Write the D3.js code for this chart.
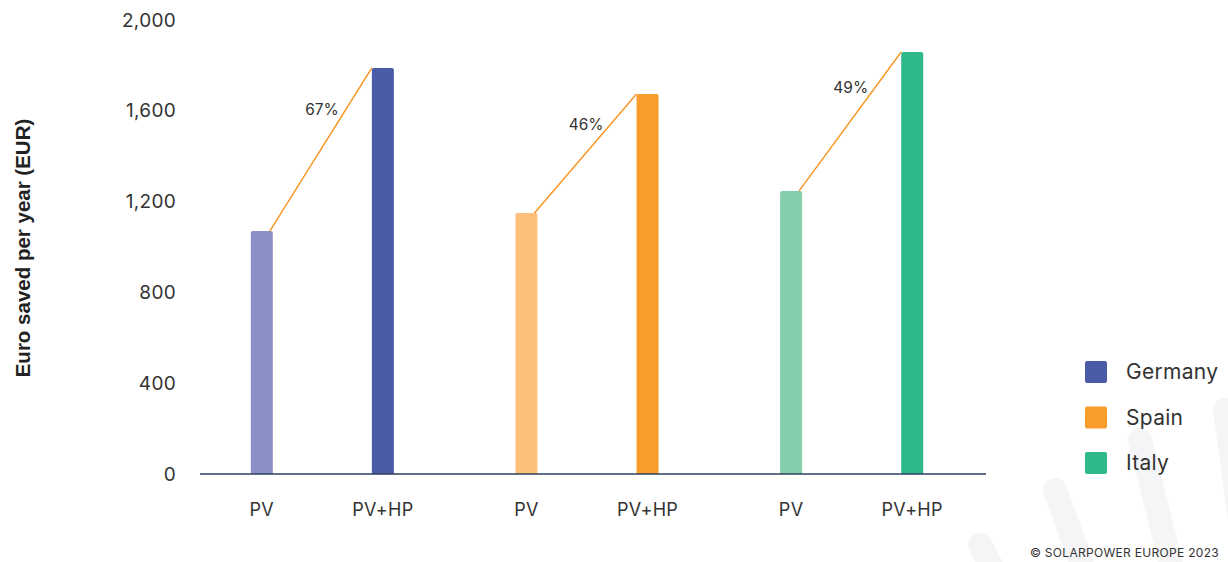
<!DOCTYPE html>
<html><head><meta charset="utf-8">
<script src="https://cdn.jsdelivr.net/npm/d3@7"></script>
<style>
html,body{margin:0;padding:0;background:#fff;}
svg{display:block;font-family:Inter,"Noto Sans",sans-serif;}
</style></head>
<body>
<svg id="chart" width="1228" height="562"></svg>
<script>
const countries = ["Germany","Spain","Italy"];
const scenarios = ["PV","PV+HP"];
const pvValues = [1070, 1150, 1247];
const pvhpValues = [1789, 1674, 1859];
const increaseLabels = ["67%","46%","49%"];
const yTicks = [0,400,800,1200,1600,2000];
const pvColors = ["#8a8fc6","#fdc07c","#85cdab"];
const hpColors = ["#4a5ba8","#f89c2a","#2fb98a"];

const svg = d3.select("#chart");

// watermark strokes
const wm = svg.append("g").attr("stroke","#f5f5f7").attr("stroke-width",24).attr("stroke-linecap","round").attr("fill","none");
[[980,545,1010,600],[1055,490,1095,600],[1140,440,1180,600],[1225,410,1240,520]].forEach(d=>{
  wm.append("line").attr("x1",d[0]).attr("y1",d[1]).attr("x2",d[2]).attr("y2",d[3]);
});

const y = d3.scaleLinear().domain([0,2000]).range([474,20]);
const x0 = d3.scaleBand().domain(countries).range([190,984]);
const x1 = d3.scalePoint().domain(scenarios).range([0,x0.step()]).padding(0.593);
const barW = 22;

// y axis labels
svg.append("g").selectAll("text").data(yTicks).join("text")
  .attr("x",176).attr("y",d=>y(d)).attr("dy","0.35em")
  .attr("text-anchor","end").attr("font-size",19).attr("letter-spacing",0.3).attr("fill","#333")
  .text(d=>d3.format(",")(d));

svg.append("text").attr("transform","translate(30,248) rotate(-90)")
  .attr("text-anchor","middle").attr("font-size",20.5).attr("font-weight","bold").attr("fill","#222")
  .style("font-family","'Liberation Sans',Arial,sans-serif")
  .text("Euro saved per year (EUR)");

const data = [];
countries.forEach((c,i)=>{
  data.push({c, s:"PV", v:pvValues[i], col:pvColors[i]});
  data.push({c, s:"PV+HP", v:pvhpValues[i], col:hpColors[i]});
});

// bars
svg.append("g").selectAll("path").data(data).join("path")
  .attr("fill",d=>d.col)
  .attr("d",d=>{
    const cx = x0(d.c)+x1(d.s), l = cx-barW/2, t = y(d.v), b = y(0), r = 2;
    return `M${l},${b}V${t+r}Q${l},${t} ${l+r},${t}H${l+barW-r}Q${l+barW},${t} ${l+barW},${t+r}V${b}Z`;
  });

// axis baseline
svg.append("line").attr("x1",200).attr("x2",986).attr("y1",y(0)).attr("y2",y(0))
  .attr("stroke","#2d3f5f").attr("stroke-width",1.3);

// x labels
svg.append("g").selectAll("text").data(data).join("text")
  .attr("x",d=>x0(d.c)+x1(d.s)).attr("y",516)
  .attr("text-anchor","middle").attr("font-size",18).attr("letter-spacing",0.3).attr("fill","#333")
  .text(d=>d.s);

// connector lines and labels
countries.forEach((c,i)=>{
  const xs = x0(c)+x1("PV")+barW/2-3, ys = y(pvValues[i]);
  const xe = x0(c)+x1("PV+HP")-barW/2, ye = y(pvhpValues[i]);
  svg.append("line").attr("x1",xs).attr("y1",ys).attr("x2",xe).attr("y2",ye)
    .attr("stroke","#f7941d").attr("stroke-width",1.4);
  const f = 0.745;
  const px = xs+(xe-xs)*f, py = ys+(ye-ys)*f;
  svg.append("text").attr("x",px-7).attr("y",py).attr("dy","0.35em")
    .attr("text-anchor","end").attr("font-size",15.5).attr("fill","#333")
    .text(increaseLabels[i]);
});

// legend
const lg = svg.append("g").selectAll("g").data(countries).join("g")
  .attr("transform",(d,i)=>`translate(1085,${361+i*45.5})`);
lg.append("rect").attr("width",22).attr("height",22).attr("rx",2).attr("fill",(d,i)=>hpColors[i]);
lg.append("text").attr("x",41).attr("y",11).attr("dy","0.35em").attr("font-size",21).attr("letter-spacing",0.3).attr("fill","#333").text(d=>d);

svg.append("text").attr("x",1219).attr("y",557).attr("text-anchor","end")
  .attr("font-size",12).attr("letter-spacing",0.3).attr("fill","#333").text("© SOLARPOWER EUROPE 2023");
</script>
</body></html>
